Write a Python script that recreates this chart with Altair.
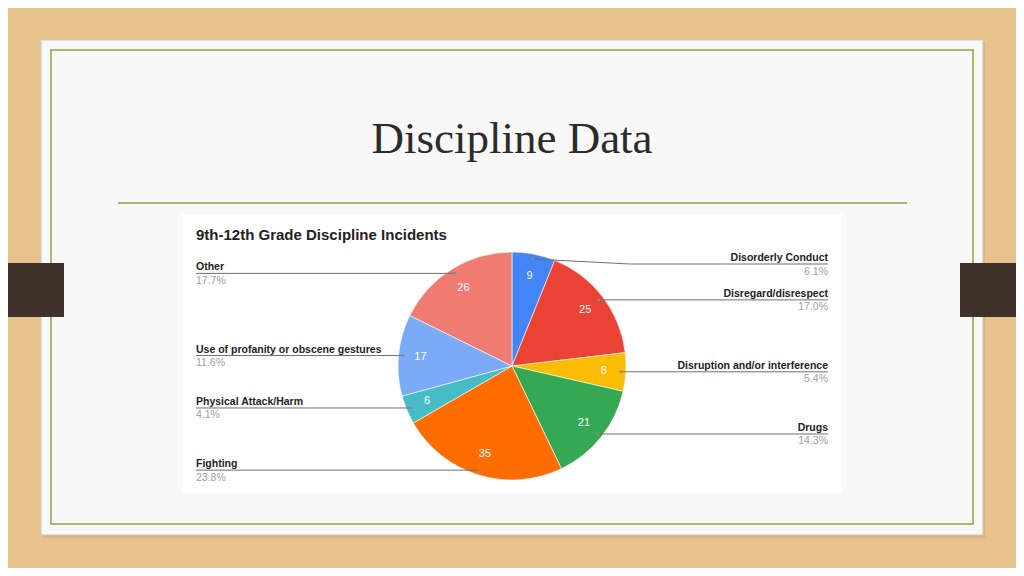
import math
import altair as alt
import pandas as pd

# ---- data ----
categories = ["Disorderly Conduct", "Disregard/disrespect", "Disruption and/or interference",
              "Drugs", "Fighting", "Physical Attack/Harm",
              "Use of profanity or obscene gestures", "Other"]
values = [9, 25, 8, 21, 35, 6, 17, 26]
colors = ["#4285f4", "#ea4335", "#fbbc04", "#34a853", "#ff6d01", "#46bdc6", "#7baaf7", "#f07b72"]
slide_title = "Discipline Data"
chart_title = "9th-12th Grade Discipline Incidents"

# ---- layout (page coords minus 8px body margin) ----
OFF = 8
W, H = 1008, 560
CX, CY, R = 512 - OFF, 366 - OFF, 114
ANCHOR_R = 109
LABEL_TOP = 264 - OFF
FONT = "Liberation Sans"

total = sum(values)
rows, pts = [], []
cum = 0
for i, (c, v) in enumerate(zip(categories, values)):
    a = 2 * math.pi * (cum + v / 2) / total
    cum += v
    ax = CX + ANCHOR_R * math.sin(a)
    ay = CY - ANCHOR_R * math.cos(a)
    right = math.sin(a) >= 0
    ly = max(ay, LABEL_TOP)
    ex = (828 if right else 196) - OFF
    elx = (630 if right else 394) - OFF
    rows.append(dict(cat=c, value=v, idx=i, ax=ax, ay=ay, lx=ex, ly=ly,
                     name_y=ly - 6, pct_y=ly + 7.5,
                     pct=f"{100 * v / total:.1f}%", side="right" if right else "left"))
    for k, (px, py) in enumerate([(ax, ay), (elx, ly), (ex, ly)]):
        pts.append(dict(cat=c, k=k, x=px, y=py))

df = pd.DataFrame(rows)
lines_df = pd.DataFrame(pts)
one = alt.Data(values=[{}])


def rect(x1, y1, x2, y2, **kw):
    return alt.Chart(one).mark_rect(**kw).encode(
        x=alt.value(x1 - OFF), x2=alt.value(x2 - OFF),
        y=alt.value(y1 - OFF), y2=alt.value(y2 - OFF))


# ---- slide decorations ----
shadow = rect(43, 42, 985, 538, color="#a88a60", opacity=0.25)
card = rect(41, 40, 983, 535, fill="#f8f8f8", stroke="#cfc8b8", strokeWidth=1)
green_frame = rect(51, 50, 973, 524, fill="#f8f8f8", stroke="#8da044", strokeWidth=1.5)
bar_left = rect(0, 263, 64, 317, color="#3d3129")
bar_right = rect(960, 263, 1024, 317, color="#3d3129")
title = alt.Chart(one).mark_text(text=slide_title, font="Liberation Serif", fontSize=45,
                                 color="#2b2b2b", align="center", baseline="alphabetic").encode(
    x=alt.value(512 - OFF), y=alt.value(153 - OFF))
title_rule = alt.Chart(one).mark_rule(color="#8da044", strokeWidth=1.5).encode(
    x=alt.value(118 - OFF), x2=alt.value(907 - OFF), y=alt.value(203 - OFF))
panel = rect(182, 214, 842, 493, color="#ffffff")
ctitle = alt.Chart(one).mark_text(text=chart_title, font=FONT, fontSize=15, fontWeight="bold",
                                  color="#222222", align="left", baseline="middle").encode(
    x=alt.value(196 - OFF), y=alt.value(235 - OFF))

# ---- pie ----
base = alt.Chart(df)
theta = alt.Theta("value:Q", stack=True)
order = alt.Order("idx:Q")
pie = base.mark_arc(outerRadius=R, stroke="white", strokeWidth=0.6).encode(
    theta=theta, order=order,
    color=alt.Color("cat:N", scale=alt.Scale(domain=categories, range=colors), legend=None),
    x=alt.value(CX), y=alt.value(CY))
slice_text = base.mark_text(radius=92, color="white", fontSize=11, font=FONT,
                            align="center", baseline="middle").encode(
    theta=theta, order=order, text="value:Q", x=alt.value(CX), y=alt.value(CY))

xs = lambda f: alt.X(f, scale=None, axis=None)
ys = lambda f: alt.Y(f, scale=None, axis=None)

leaders = alt.Chart(lines_df).mark_line(color="#6f6f6f", strokeWidth=1).encode(
    x=xs("x:Q"), y=ys("y:Q"), detail="cat:N", order="k:Q")
anchors = base.mark_point(filled=True, color="#8a8a8a", size=8, opacity=1).encode(
    x=xs("ax:Q"), y=ys("ay:Q"))

label_layers = []
for side in ["left", "right"]:
    sub = base.transform_filter(alt.datum.side == side)
    label_layers.append(sub.mark_text(font=FONT, fontSize=10.5, fontWeight="bold", color="#222222",
                                      align=side, baseline="middle").encode(
        x=xs("lx:Q"), y=ys("name_y:Q"), text="cat:N"))
    label_layers.append(sub.mark_text(font=FONT, fontSize=10.5, color="#9e9e9e",
                                      align=side, baseline="middle").encode(
        x=xs("lx:Q"), y=ys("pct_y:Q"), text="pct:N"))

chart = alt.layer(
    shadow, card, green_frame, bar_left, bar_right, title, title_rule, panel, ctitle,
    pie, slice_text, leaders, anchors, *label_layers
).properties(
    width=W, height=H, autosize="none", padding=0, background="#e6c38d"
).configure_view(stroke=None)

chart.save("out.html", embed_options={"renderer": "svg", "actions": False})
